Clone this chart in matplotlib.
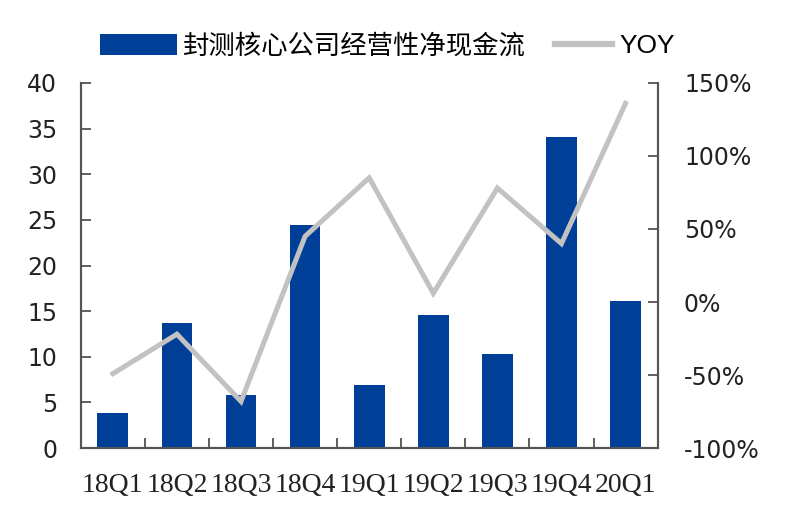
import matplotlib
matplotlib.use("Agg")
import matplotlib.pyplot as plt
import numpy as np
from matplotlib.ticker import FuncFormatter

quarters = ["18Q1", "18Q2", "18Q3", "18Q4", "19Q1", "19Q2", "19Q3", "19Q4", "20Q1"]
cash_flow = [3.8, 13.7, 5.8, 24.4, 6.9, 14.6, 10.3, 34.1, 16.1]
yoy = [-49, -22, -68, 45, 85, 6, 78, 40, 136]

bar_color = "#003f98"
line_color = "#c2c2c2"
tick_font = ["DejaVu Sans"]

fig = plt.figure(figsize=(8, 5.31), dpi=100)
ax = fig.add_axes([0.101, 0.156, 0.721, 0.688])
ax2 = ax.twinx()

x = np.arange(len(quarters))
bars = ax.bar(x, cash_flow, width=0.48, color=bar_color, zorder=2,
              label="封测核心公司经营性净现金流")
line, = ax2.plot(x, yoy, color=line_color, lw=3.6, solid_joinstyle="miter",
                 label="YOY", zorder=3)

ax.set_xlim(-0.5, len(quarters) - 0.5)
ax.set_ylim(0, 40)
ax.set_yticks(range(0, 41, 5))
ax2.set_ylim(-100, 150)
ax2.set_yticks(range(-100, 151, 50))
ax2.yaxis.set_major_formatter(FuncFormatter(lambda v, p: f"{v:.0f}%"))

ax.set_xticks(x)
ax.set_xticklabels(quarters, family=["Liberation Serif", "DejaVu Serif"],
                   fontsize=20, color="#222222")
ax.set_xticks(np.arange(-0.5, len(quarters)), minor=True)
ax.tick_params(axis="x", which="major", length=0, pad=18)
ax.tick_params(axis="x", which="minor", direction="in", length=7.5, width=1.2,
               color="#444444")

# left labels sit a bit further out than the right ones
for a, pad in ((ax, 17), (ax2, 19)):
    a.spines["top"].set_visible(False)
    for s in ("left", "right", "bottom"):
        a.spines[s].set_color("#555555")
        a.spines[s].set_linewidth(1.5)
    a.tick_params(axis="y", direction="in", length=7.5, width=1.2, color="#444444",
                  labelsize=17, pad=pad, labelcolor="#222222")
    for t in a.get_yticklabels():
        t.set_family(tick_font)

ax.set_zorder(ax2.get_zorder() - 1)
ax2.patch.set_visible(False)
ax.patch.set_visible(False)

legend_font = {"family": ["Noto Sans CJK SC", "DejaVu Sans"], "size": 19}
leg1 = fig.legend(handles=[bars], loc="center left", bbox_to_anchor=(0.125, 0.913),
                  frameon=False, handlelength=2.9, handleheight=0.85, borderpad=0,
                  borderaxespad=0, handletextpad=0.25, prop=legend_font)
leg2 = fig.legend(handles=[line], loc="center left", bbox_to_anchor=(0.694, 0.913),
                  frameon=False, handlelength=2.15, borderpad=0, borderaxespad=0,
                  handletextpad=0.3,
                  prop={"family": ["Liberation Sans", "DejaVu Sans"], "size": 19})
leg2.get_lines()[0].set_linewidth(4.5)

fig.savefig("out.png", dpi=100)
